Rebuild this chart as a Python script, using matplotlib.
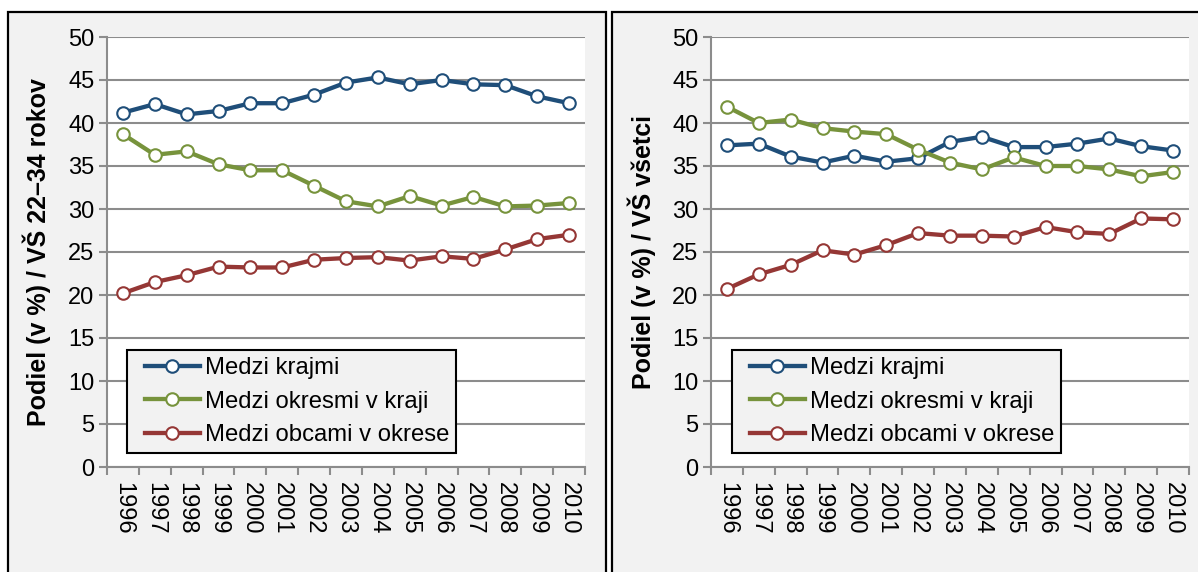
import matplotlib
matplotlib.use("Agg")
import matplotlib.pyplot as plt
from matplotlib.patches import Rectangle
from matplotlib.legend_handler import HandlerLine2D

plt.rcParams['font.family'] = ['Liberation Sans', 'DejaVu Sans']

years = ["1996", "1997", "1998", "1999", "2000", "2001", "2002", "2003",
         "2004", "2005", "2006", "2007", "2008", "2009", "2010"]
series_names = ["Medzi krajmi", "Medzi okresmi v kraji", "Medzi obcami v okrese"]

left_krajmi = [41.2, 42.2, 41.0, 41.4, 42.3, 42.3, 43.3, 44.7, 45.3, 44.5, 45.0, 44.5, 44.4, 43.1, 42.3]
left_okresmi = [38.7, 36.3, 36.7, 35.2, 34.5, 34.5, 32.7, 30.9, 30.3, 31.5, 30.4, 31.4, 30.3, 30.4, 30.7]
left_obcami = [20.2, 21.5, 22.3, 23.3, 23.2, 23.2, 24.1, 24.3, 24.4, 24.0, 24.5, 24.2, 25.3, 26.5, 27.0]

right_krajmi = [37.4, 37.6, 36.1, 35.4, 36.2, 35.5, 35.9, 37.8, 38.4, 37.2, 37.2, 37.6, 38.2, 37.3, 36.8]
right_okresmi = [41.9, 40.0, 40.4, 39.4, 39.0, 38.7, 36.9, 35.4, 34.6, 36.0, 35.0, 35.0, 34.6, 33.8, 34.3]
right_obcami = [20.7, 22.4, 23.5, 25.2, 24.7, 25.8, 27.2, 26.9, 26.9, 26.8, 27.9, 27.3, 27.1, 28.9, 28.8]

ylabels = ["Podiel (v %) / VŠ 22–34 rokov", "Podiel (v %) / VŠ všetci"]
yticks = [0, 5, 10, 15, 20, 25, 30, 35, 40, 45, 50]

colors = ["#1F4E79", "#77933C", "#953735"]
grid_color = "#8C8C8C"
panel_bg = "#F2F2F2"

W, H = 1198, 572
fig = plt.figure(figsize=(W / 100, H / 100), dpi=100)
fig.patch.set_facecolor("white")

def px_rect(x0, y0, x1, y1):
    return [x0 / W, 1 - y1 / H, (x1 - x0) / W, (y1 - y0) / H]

# panel backgrounds with borders
for (x0, x1) in [(8, 606), (612, 1210)]:
    r = Rectangle((x0 / W, -0.05), (x1 - x0) / W, (1 - 12 / H) + 0.05,
                  transform=fig.transFigure, facecolor=panel_bg,
                  edgecolor="black", linewidth=1.6, zorder=-10)
    fig.patches.append(r)

axes_px = [(107, 37, 585, 467), (711, 37, 1189, 467)]
data = [(left_krajmi, left_okresmi, left_obcami),
        (right_krajmi, right_okresmi, right_obcami)]
label_x_px = [51, 656]

for i in range(2):
    x0, y0, x1, y1 = axes_px[i]
    ax = fig.add_axes(px_rect(x0, y0, x1, y1))
    ax.set_facecolor("white")
    xs = list(range(len(years)))
    lines = []
    for s, vals in enumerate(data[i]):
        ln, = ax.plot(xs, vals, color=colors[s], linewidth=3.1, marker="o",
                      markersize=9, markerfacecolor="white",
                      markeredgecolor=colors[s], markeredgewidth=1.5,
                      label=series_names[s], zorder=3, clip_on=False)
        lines.append(ln)
    ax.set_xlim(-0.5, len(years) - 0.5)
    ax.set_ylim(0, 50)
    ax.set_yticks(yticks)
    ax.yaxis.grid(True, color=grid_color, linewidth=1.5)
    ax.set_axisbelow(True)
    for sp in ["top", "right"]:
        ax.spines[sp].set_visible(False)
    for sp in ["left", "bottom"]:
        ax.spines[sp].set_color(grid_color)
        ax.spines[sp].set_linewidth(1.5)
    # x ticks at category boundaries, labels at centers
    ax.set_xticks([k - 0.5 for k in range(len(years) + 1)])
    ax.set_xticklabels([])
    ax.set_xticks(xs, minor=True)
    ax.set_xticklabels(years, minor=True, rotation=-90, fontsize=17)
    ax.tick_params(axis="x", which="minor", length=0, pad=11)
    ax.tick_params(axis="x", which="major", length=6, width=1.5, color=grid_color)
    ax.tick_params(axis="y", length=6, width=1.5, color=grid_color, labelsize=17, pad=3)
    ax.set_ylabel(ylabels[i], fontsize=18, fontweight="bold")
    ax.yaxis.set_label_coords((label_x_px[i] - x0) / (x1 - x0), 0.5)
    lx0, ly0 = (127 if i == 0 else 732), 350
    leg = ax.legend(handles=lines, loc="upper left",
                    bbox_to_anchor=((lx0 - x0) / (x1 - x0), 1 - (ly0 - y0) / (y1 - y0)),
                    prop={"size": 17.2}, frameon=True, fancybox=False, framealpha=1,
                    facecolor=panel_bg, edgecolor="black", handlelength=2.75,
                    handletextpad=0.2, labelspacing=0.48, borderpad=0.3,
                    borderaxespad=0,
                    handler_map={ln: HandlerLine2D(xpad=0.45) for ln in lines})
    leg.get_frame().set_linewidth(1.5)

fig.savefig("out.png", dpi=100)
